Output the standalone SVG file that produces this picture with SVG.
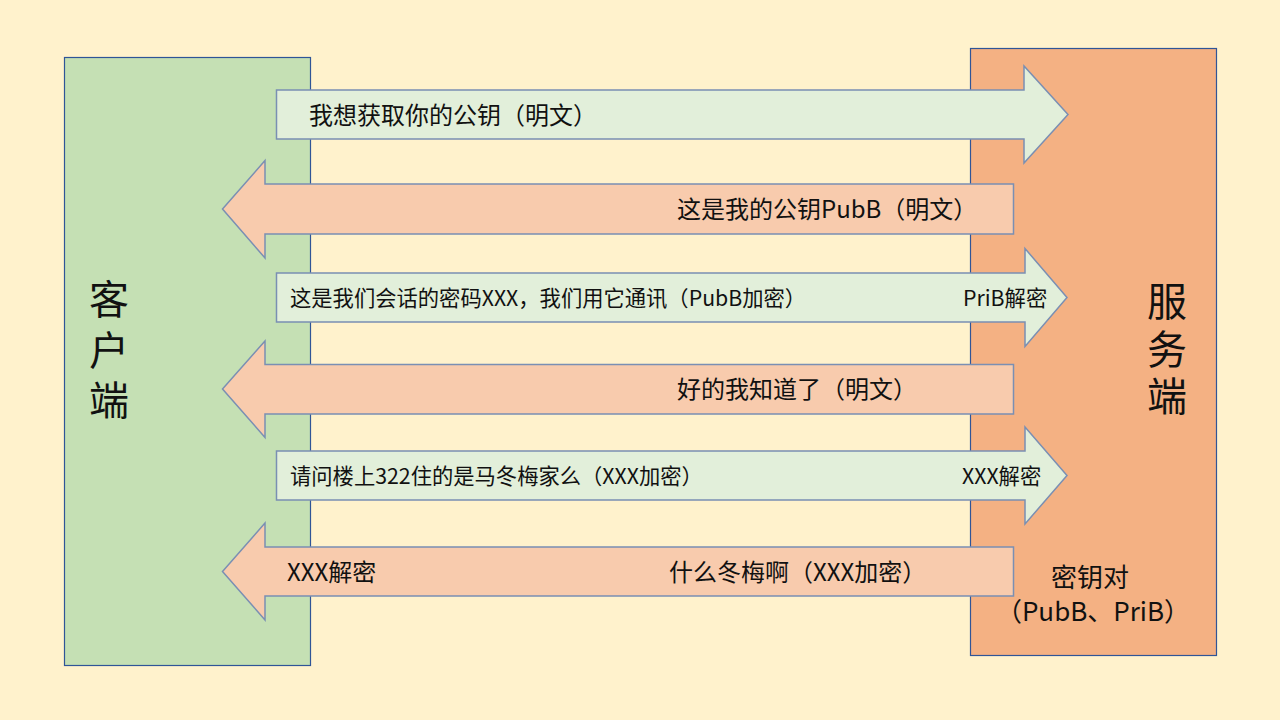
<svg xmlns="http://www.w3.org/2000/svg" width="1280" height="720" viewBox="0 0 1280 720">
<style>
.bg{fill:#FFF2CC}
.box{stroke:#2F5597;stroke-width:1.2}
.client{fill:#C5E0B4}
.server{fill:#F4B183}
.arr{stroke:#7A8FB3;stroke-width:1.5;stroke-linejoin:miter}
.req{fill:#E2EFDA}
.resp{fill:#F8CBAD}
text{font-family:"Noto Sans CJK SC","Noto Sans",sans-serif;fill:#111}
.big{font-size:24px}
.mid{font-size:21.3px}
.side{font-size:40px;writing-mode:vertical-rl}
.key{font-size:26px}
</style>
<rect class="bg" x="0" y="0" width="1280" height="720"/>
<g id="client">
<rect class="box client" x="64.5" y="57.5" width="246" height="608"/>
<text class="side" x="109" y="279" letter-spacing="10.5">客户端</text>
</g>
<g id="server">
<rect class="box server" x="970.5" y="48.5" width="246" height="607"/>
<text class="side" x="1167" y="281" letter-spacing="7.5">服务端</text>
<text class="key" x="1090" y="587" text-anchor="middle">密钥对</text>
<text class="key" x="1093" y="621" text-anchor="middle">（PubB、PriB）</text>
</g>
<g id="connectors">
<g id="msg1">
<path class="arr req" d="M276.5,90 H1024 V66 L1068,114.5 L1024,163 V139 H276.5 Z"/>
<text class="big" x="309" y="123.5">我想获取你的公钥（明文）</text>
</g>
<g id="msg2">
<path class="arr resp" d="M1013.5,184 H265 V160.5 L222.5,209 L265,258 V234 H1013.5 Z"/>
<text class="big" x="677" y="218">这是我的公钥PubB（明文）</text>
</g>
<g id="msg3">
<path class="arr req" d="M276.5,273 H1025 V248.5 L1067,297.5 L1025,346.5 V322 H276.5 Z"/>
<text class="mid" x="290" y="305.5">这是我们会话的密码XXX，我们用它通讯（PubB加密）</text>
<text class="mid" x="963" y="305.5">PriB解密</text>
</g>
<g id="msg4">
<path class="arr resp" d="M1013.5,364.5 H265 V341 L222.5,389 L265,437.5 V414 H1013.5 Z"/>
<text class="big" x="677" y="398">好的我知道了（明文）</text>
</g>
<g id="msg5">
<path class="arr req" d="M276.5,451 H1025 V427 L1067,475.5 L1025,524 V500 H276.5 Z"/>
<text class="mid" x="290" y="483.5">请问楼上322住的是马冬梅家么（XXX加密）</text>
<text class="mid" x="962" y="483.5">XXX解密</text>
</g>
<g id="msg6">
<path class="arr resp" d="M1013.5,547 H265 V523 L222.5,571.5 L265,620 V596 H1013.5 Z"/>
<text class="big" x="287" y="580.5">XXX解密</text>
<text class="big" x="669" y="580.5">什么冬梅啊（XXX加密）</text>
</g>
</g>
</svg>
